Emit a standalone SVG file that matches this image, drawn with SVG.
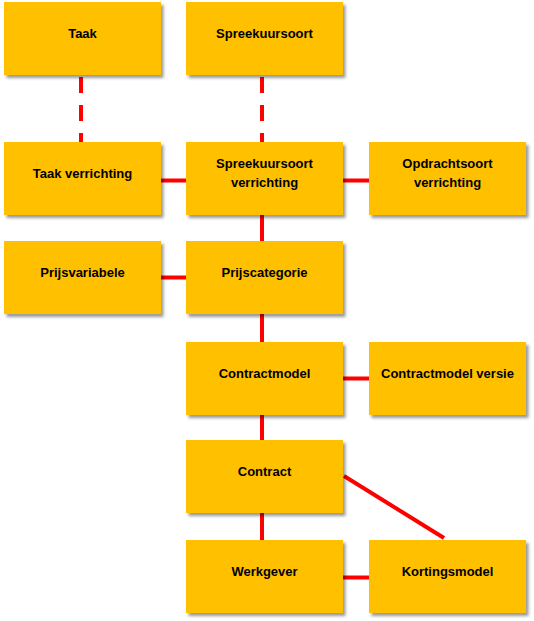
<svg xmlns="http://www.w3.org/2000/svg" width="534" height="621" viewBox="0 0 534 621">
<style>
.box{fill:#FFC000;filter:url(#sh)}
.t{font-family:"Liberation Sans",Arial,sans-serif;font-weight:bold;font-size:13px;fill:#000;text-anchor:middle}
.c{stroke:#FF0000;stroke-width:4;fill:none}
.d{stroke-dasharray:16 12}
</style>
<defs>
<filter id="sh" x="-10%" y="-10%" width="125%" height="135%">
<feDropShadow dx="2.5" dy="3" stdDeviation="1.5" flood-color="#000" flood-opacity="0.4"/>
</filter>
</defs>
<rect width="534" height="621" fill="#fff"/>
<g id="connectors">
<line class="c d" x1="81" y1="77" x2="81" y2="142"/>
<line class="c d" x1="262" y1="77" x2="262" y2="142"/>
<line class="c" x1="161" y1="180.5" x2="186" y2="180.5"/>
<line class="c" x1="343" y1="180.5" x2="369" y2="180.5"/>
<line class="c" x1="262" y1="215" x2="262" y2="241"/>
<line class="c" x1="161" y1="277.5" x2="186" y2="277.5"/>
<line class="c" x1="262" y1="314" x2="262" y2="342"/>
<line class="c" x1="343" y1="378.5" x2="369" y2="378.5"/>
<line class="c" x1="262" y1="415" x2="262" y2="440"/>
<line class="c" x1="262" y1="513" x2="262" y2="540"/>
<line class="c" x1="343" y1="577.5" x2="369" y2="577.5"/>
<line class="c" x1="344" y1="476" x2="444" y2="538"/>
</g>
<g id="taak"><rect class="box" x="4" y="2" width="157" height="73"/><text class="t" x="82.5" y="38">Taak</text></g>
<g id="spreekuursoort"><rect class="box" x="186" y="2" width="157" height="73"/><text class="t" x="264.5" y="38">Spreekuursoort</text></g>
<g id="taak-verrichting"><rect class="box" x="4" y="142" width="157" height="73"/><text class="t" x="82.5" y="178">Taak verrichting</text></g>
<g id="spreekuursoort-verrichting"><rect class="box" x="186" y="142" width="157" height="73"/><text class="t" x="264.5" y="168">Spreekuursoort</text><text class="t" x="264.5" y="187">verrichting</text></g>
<g id="opdrachtsoort-verrichting"><rect class="box" x="369" y="142" width="157" height="73"/><text class="t" x="447.5" y="168">Opdrachtsoort</text><text class="t" x="447.5" y="187">verrichting</text></g>
<g id="prijsvariabele"><rect class="box" x="4" y="241" width="157" height="73"/><text class="t" x="82.5" y="277">Prijsvariabele</text></g>
<g id="prijscategorie"><rect class="box" x="186" y="241" width="157" height="73"/><text class="t" x="264.5" y="277">Prijscategorie</text></g>
<g id="contractmodel"><rect class="box" x="186" y="342" width="157" height="73"/><text class="t" x="264.5" y="378">Contractmodel</text></g>
<g id="contractmodel-versie"><rect class="box" x="369" y="342" width="157" height="73"/><text class="t" x="447.5" y="378">Contractmodel versie</text></g>
<g id="contract"><rect class="box" x="186" y="440" width="157" height="73"/><text class="t" x="264.5" y="476">Contract</text></g>
<g id="werkgever"><rect class="box" x="186" y="540" width="157" height="73"/><text class="t" x="264.5" y="576">Werkgever</text></g>
<g id="kortingsmodel"><rect class="box" x="369" y="540" width="157" height="73"/><text class="t" x="447.5" y="576">Kortingsmodel</text></g>
</svg>
